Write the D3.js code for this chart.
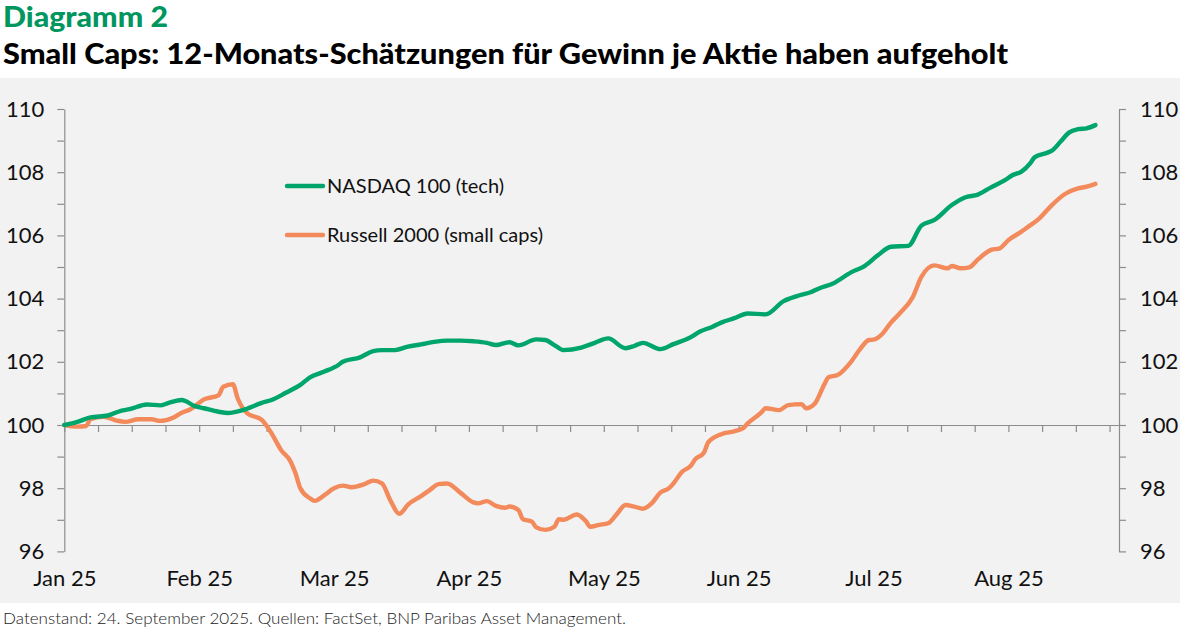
<!DOCTYPE html>
<html>
<head>
<meta charset="utf-8">
<script src="https://cdn.jsdelivr.net/npm/d3@7"></script>
<style>
  body { margin: 0; background: #fff; }
  svg { display: block; font-family: Lato, "Noto Sans", sans-serif; }
</style>
</head>
<body>
<div id="chart"></div>
<script>
// Chart data.
const monthLabels = ["Jan 25", "Feb 25", "Mar 25", "Apr 25", "May 25", "Jun 25", "Jul 25", "Aug 25"];
const yLabels = [96, 98, 100, 102, 104, 106, 108, 110];

const nasdaqDates = [
  "2025-01-01","2025-01-04","2025-01-07","2025-01-11","2025-01-14","2025-01-16","2025-01-20","2025-01-23","2025-01-25","2025-01-28","2025-01-31",
  "2025-02-02","2025-02-05","2025-02-07","2025-02-10","2025-02-14","2025-02-16","2025-02-19","2025-02-22","2025-02-24","2025-02-27",
  "2025-03-02","2025-03-03","2025-03-07","2025-03-10","2025-03-12","2025-03-15","2025-03-18","2025-03-21","2025-03-24","2025-03-27","2025-03-30",
  "2025-04-02","2025-04-05","2025-04-07","2025-04-10","2025-04-12","2025-04-16","2025-04-18","2025-04-20","2025-04-22","2025-04-26","2025-04-29",
  "2025-05-02","2025-05-06","2025-05-08","2025-05-10","2025-05-14","2025-05-17","2025-05-21","2025-05-23","2025-05-26","2025-05-28","2025-05-31",
  "2025-06-03","2025-06-07","2025-06-11","2025-06-14","2025-06-17","2025-06-19","2025-06-22","2025-06-26","2025-06-29",
  "2025-07-02","2025-07-05","2025-07-09","2025-07-12","2025-07-15","2025-07-19","2025-07-22","2025-07-25","2025-07-28","2025-07-31",
  "2025-08-02","2025-08-04","2025-08-06","2025-08-07","2025-08-10","2025-08-11","2025-08-13","2025-08-15","2025-08-17","2025-08-19","2025-08-21"
];
const nasdaqValues = [
  100.0,100.1,100.24,100.3,100.45,100.5,100.65,100.62,100.7,100.79,100.6,
  100.53,100.42,100.38,100.47,100.7,100.79,101.02,101.27,101.51,101.69,
  101.9,102.0,102.14,102.34,102.37,102.37,102.48,102.55,102.63,102.67,102.67,
  102.65,102.6,102.53,102.62,102.52,102.71,102.69,102.53,102.37,102.45,102.6,
  102.74,102.43,102.5,102.6,102.4,102.56,102.78,102.95,103.11,103.24,103.38,
  103.53,103.5,103.92,104.08,104.2,104.33,104.48,104.83,105.03,
  105.37,105.64,105.67,106.31,106.49,106.96,107.2,107.29,107.52,107.73,
  107.91,108.02,108.28,108.47,108.62,108.68,108.97,109.26,109.36,109.39,109.49
];

const russellDates = [
  "2025-01-01","2025-01-04","2025-01-06","2025-01-07","2025-01-10","2025-01-13","2025-01-15","2025-01-18","2025-01-21","2025-01-23","2025-01-26","2025-01-28","2025-01-30",
  "2025-02-02","2025-02-05","2025-02-06","2025-02-08","2025-02-09","2025-02-11","2025-02-14","2025-02-16","2025-02-18","2025-02-20","2025-02-21","2025-02-22","2025-02-24","2025-02-25","2025-02-27",
  "2025-03-01","2025-03-03","2025-03-05","2025-03-08","2025-03-10","2025-03-12","2025-03-14","2025-03-16","2025-03-18","2025-03-21","2025-03-23","2025-03-25","2025-03-27","2025-03-30",
  "2025-04-02","2025-04-03","2025-04-05","2025-04-07","2025-04-09","2025-04-10","2025-04-12","2025-04-13","2025-04-15","2025-04-16","2025-04-18","2025-04-20","2025-04-21","2025-04-22","2025-04-25","2025-04-27","2025-04-28","2025-04-30",
  "2025-05-02","2025-05-04","2025-05-06","2025-05-08","2025-05-10","2025-05-12","2025-05-14","2025-05-16","2025-05-17","2025-05-19","2025-05-21","2025-05-22","2025-05-24","2025-05-25","2025-05-28","2025-05-31",
  "2025-06-02","2025-06-03","2025-06-06","2025-06-07","2025-06-10","2025-06-12","2025-06-15","2025-06-16","2025-06-18","2025-06-20","2025-06-21","2025-06-23","2025-06-26","2025-06-28","2025-06-30",
  "2025-07-01","2025-07-03","2025-07-05","2025-07-07","2025-07-10","2025-07-12","2025-07-15","2025-07-18","2025-07-19","2025-07-21","2025-07-23","2025-07-25","2025-07-28","2025-07-30",
  "2025-08-01","2025-08-04","2025-08-05","2025-08-08","2025-08-11","2025-08-14","2025-08-17","2025-08-19","2025-08-21"
];
const russellValues = [
  100.0,99.95,99.97,100.18,100.26,100.14,100.1,100.18,100.18,100.13,100.23,100.39,100.5,
  100.81,100.94,101.21,101.29,100.84,100.37,100.16,99.74,99.21,98.84,98.47,98.0,97.68,97.6,97.78,
  98.0,98.08,98.03,98.13,98.24,98.15,97.6,97.19,97.48,97.75,97.94,98.13,98.15,97.86,
  97.55,97.52,97.59,97.44,97.38,97.42,97.31,97.02,96.94,96.76,96.68,96.78,97.02,97.0,97.17,96.96,96.78,96.84,
  96.89,97.18,97.47,97.42,97.35,97.52,97.86,98.0,98.15,98.52,98.71,98.91,99.12,99.45,99.71,99.8,
  99.9,100.05,100.39,100.53,100.47,100.63,100.66,100.53,100.69,101.27,101.51,101.58,102.0,102.4,102.69,
  102.7,102.88,103.24,103.53,104.04,104.69,105.05,104.96,105.03,104.96,104.99,105.24,105.54,105.59,
  105.85,106.12,106.22,106.52,106.96,107.31,107.49,107.54,107.63
];

const seriesNames = ["NASDAQ 100 (tech)", "Russell 2000 (small caps)"];
const seriesColors = ["#00a56b", "#f28a5b"];

const W = 1180, H = 630;
const svg = d3.select("#chart").append("svg").attr("width", W).attr("height", H);

// Grey chart panel.
svg.append("rect").attr("x", 0).attr("y", 78).attr("width", W).attr("height", 525).attr("fill", "#f2f2f2");

// Titles.
svg.append("text").attr("x", 3).attr("y", 27)
  .attr("font-size", 28).attr("font-weight", 900).attr("fill", "#00965e")
  .attr("textLength", 165).attr("lengthAdjust", "spacingAndGlyphs")
  .text("Diagramm 2");
svg.append("text").attr("x", 3).attr("y", 64)
  .attr("font-size", 28).attr("font-weight", 900).attr("fill", "#000")
  .attr("textLength", 1005).attr("lengthAdjust", "spacingAndGlyphs")
  .text("Small Caps: 12-Monats-Schätzungen für Gewinn je Aktie haben aufgeholt");

// Footer.
svg.append("text").attr("x", 3).attr("y", 624)
  .attr("font-size", 15).attr("font-weight", 300).attr("fill", "#222")
  .attr("textLength", 623).attr("lengthAdjust", "spacingAndGlyphs")
  .text("Datenstand: 24. September 2025. Quellen: FactSet, BNP Paribas Asset Management.");

// Month position: month index plus fraction of the month elapsed.
const parse = d3.timeParse("%Y-%m-%d");
const monthPos = d => {
  const dim = new Date(d.getFullYear(), d.getMonth() + 1, 0).getDate();
  return d.getMonth() + (d.getDate() - 1) / dim;
};

const x = d3.scaleLinear().domain([0, 7.82]).range([64.3, 1119]);
const y = d3.scaleLinear().domain([96, 110]).range([551.4, 109]);

const axisColor = "#8c8c8c";
function styleAxis(g) {
  g.select(".domain").attr("stroke", axisColor).attr("stroke-width", 1.2);
  g.selectAll(".tick line").attr("stroke", axisColor).attr("stroke-width", 1.2);
  g.selectAll(".tick text").attr("fill", "#111").attr("font-size", 22)
    .attr("font-family", "Lato, 'Noto Sans', sans-serif");
}

// Left y axis.
svg.append("g").attr("transform", `translate(${x(0)},0)`)
  .call(d3.axisLeft(y).tickValues(d3.range(96, 111, 1)).tickSize(7).tickSizeOuter(0)
    .tickPadding(13).tickFormat(v => yLabels.includes(v) ? v : ""))
  .call(styleAxis);

// Right y axis.
svg.append("g").attr("transform", `translate(${x.range()[1]},0)`)
  .call(d3.axisRight(y).tickValues(d3.range(96, 111, 1)).tickSize(7).tickSizeOuter(0)
    .tickPadding(14).tickFormat(v => yLabels.includes(v) ? v : ""))
  .call(styleAxis);

// Horizontal axis at 100 with weekly ticks.
svg.append("g").attr("transform", `translate(0,${y(100)})`)
  .call(d3.axisBottom(x).tickValues(d3.range(0, 7.8, 0.25)).tickSize(7).tickSizeOuter(0).tickFormat(""))
  .call(styleAxis);

// Month labels along the bottom.
svg.append("g").attr("transform", `translate(0,${y(96)})`)
  .call(d3.axisBottom(x).tickValues(d3.range(0, monthLabels.length)).tickSize(0).tickPadding(19)
    .tickFormat(i => monthLabels[i]))
  .call(g => g.select(".domain").remove())
  .call(g => g.selectAll("text").attr("fill", "#111").attr("font-size", 22)
    .attr("font-family", "Lato, 'Noto Sans', sans-serif"));

// Lines.
const series = [
  nasdaqDates.map((d, i) => ({ t: monthPos(parse(d)), v: nasdaqValues[i] })),
  russellDates.map((d, i) => ({ t: monthPos(parse(d)), v: russellValues[i] }))
];
const line = d3.line().x(d => x(d.t)).y(d => y(d.v)).curve(d3.curveMonotoneX);

// Orange drawn first so green sits on top where they cross.
[1, 0].forEach(k => {
  svg.append("path").datum(series[k])
    .attr("fill", "none").attr("stroke", seriesColors[k]).attr("stroke-width", 4.4)
    .attr("stroke-linejoin", "round").attr("stroke-linecap", "round")
    .attr("d", line);
});

// Legend.
const legend = svg.append("g").attr("transform", "translate(287,186)");
seriesNames.forEach((name, i) => {
  const row = legend.append("g").attr("transform", `translate(0,${i * 49})`);
  row.append("line").attr("x1", 0).attr("x2", 36).attr("y1", 0).attr("y2", 0)
    .attr("stroke", seriesColors[i]).attr("stroke-width", 4.4).attr("stroke-linecap", "round");
  row.append("text").attr("x", 40).attr("y", 0).attr("dy", "0.35em")
    .attr("font-size", 20).attr("fill", "#111").text(name);
});
</script>
</body>
</html>
